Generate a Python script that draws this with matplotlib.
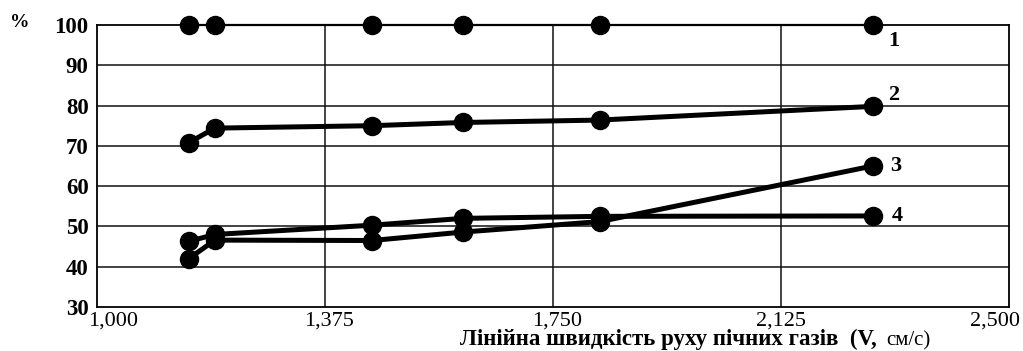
import numpy as np
import matplotlib
matplotlib.use("Agg")
import matplotlib.pyplot as plt
from matplotlib.transforms import ScaledTranslation

# швидкість газів, x
speed = [1.151, 1.194, 1.452, 1.602, 1.827, 2.276]

# серії 1..4, %
s1 = [100, 100, 100, 100, 100, 100]
s2 = [70.8, 74.4, 75.0, 75.8, 76.4, 79.8]
s3 = [42.0, 46.6, 46.5, 48.6, 51.2, 65.0]
s4 = [46.3, 48.0, 50.3, 52.0, 52.5, 52.6]

series_labels = ["1", "2", "3", "4"]
xticks = [1.000, 1.375, 1.750, 2.125, 2.500]
xtick_labels = ["1,000", "1,375", "1,750", "2,125", "2,500"]
yticks = [30, 40, 50, 60, 70, 80, 90, 100]

plt.rcParams['font.family'] = ['Liberation Serif', 'DejaVu Serif']

fig = plt.figure(figsize=(10.23, 3.51), dpi=100)
ax = fig.add_axes([0.0948, 0.1254, 0.8915, 0.8034])

ax.set_xlim(1.0, 2.5)
ax.set_ylim(30, 100)

# сітка
for y in yticks[1:-1]:
    ax.axhline(y, color='#111111', lw=1.1, zorder=1)
for x in xticks[1:-1]:
    ax.axvline(x, color='#111111', lw=1.1, zorder=1)
for sp in ax.spines.values():
    sp.set_linewidth(1.3)

ax.plot(speed, s1, color='black', lw=1.6, marker='o', ms=13, zorder=3, clip_on=False)
ax.plot(speed, s2, color='black', lw=3.6, marker='o', ms=13, zorder=3)
ax.plot(speed, s3, color='black', lw=3.6, marker='o', ms=13, zorder=3)
ax.plot(speed, s4, color='black', lw=3.6, marker='o', ms=13, zorder=3)

# номери кривих
ends = [s1[-1], s2[-1], s3[-1], s4[-1]]
offs = [(0.025, -4.0), (0.025, 2.7), (0.028, 0.1), (0.031, 0.0)]
for lab, yv, (dx, dy) in zip(series_labels, ends, offs):
    ax.text(speed[-1] + dx, yv + dy, lab, fontsize=16, fontweight='bold',
            va='center', ha='left')

ax.set_xticks(xticks)
ax.set_xticklabels(xtick_labels, fontsize=16)
ax.set_yticks(yticks)
ax.set_yticklabels([str(v) for v in yticks], fontsize=16.5, fontweight='bold')
ax.tick_params(length=0)
ax.tick_params(axis='y', pad=6)
ax.tick_params(axis='x', pad=3)

# крайні підписи зсунуті всередину
shifts = [16, 4, 4, 0, -14]
for lbl, dx in zip(ax.get_xticklabels(), shifts):
    lbl.set_transform(lbl.get_transform() + ScaledTranslation(dx / 100, 0, fig.dpi_scale_trans))

fig.text(0.0098, 0.922, "%", fontsize=14, fontweight='bold', ha='left', va='baseline')

t = ax.text(0.3975, -0.135, "Лінійна швидкість руху пічних газів  (V,", transform=ax.transAxes,
            fontsize=16.5, fontweight='bold', ha='left', va='baseline')
ax.annotate("см/с)", xy=(1, 0), xycoords=t, xytext=(7, 0), textcoords='offset points',
            fontsize=15, ha='left', va='bottom')

fig.savefig("out.png", dpi=100)
